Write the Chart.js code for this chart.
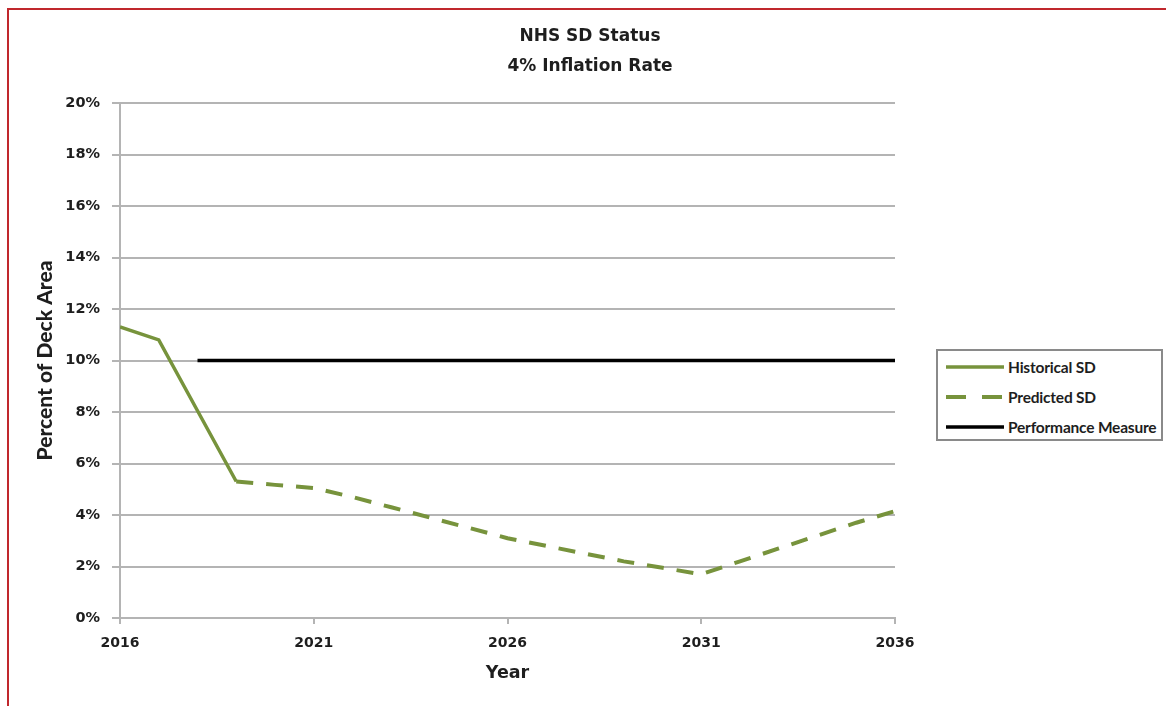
<!DOCTYPE html>
<html>
<head>
<meta charset="utf-8">
<title>NHS SD Status</title>
<script src="https://cdn.jsdelivr.net/npm/chart.js@4.4.1/dist/chart.umd.min.js"></script>
<style>
  html, body { margin: 0; padding: 0; background: #fff; }
  body { width: 1166px; height: 706px; position: relative; overflow: hidden; font-family: Lato, "Open Sans", sans-serif; }
  #frame {
    position: absolute; left: 7px; top: 8px; width: 1170px; height: 720px;
    border-left: 2px solid #c0282d; border-top: 2px solid #c0282d; border-right: 2px solid #c0282d;
    box-sizing: border-box;
  }
  #chart { position: absolute; left: 0; top: 0; }
  #legend {
    position: absolute; left: 936px; top: 349px; width: 227px; height: 92px;
    border: 2px solid #8a8a8a; box-sizing: border-box; background: #fff;
    padding-top: 1px;
  }
  .item { display: flex; align-items: center; height: 30px; padding-left: 8px; }
  .item svg { width: 58px; height: 8px; margin-right: 4px; flex: none; }
  .item span { font: bold 15.5px Lato, sans-serif; color: #1e1e1e; white-space: nowrap; letter-spacing: -0.2px; }
</style>
</head>
<body>
<div id="frame"></div>
<canvas id="chart" width="1166" height="706"></canvas>
<div id="legend"></div>
<script>
// Years on the x axis and the series, one value per year (null = no value)
const years = [2016, 2017, 2018, 2019, 2020, 2021, 2022, 2023, 2024, 2025, 2026,
               2027, 2028, 2029, 2030, 2031, 2032, 2033, 2034, 2035, 2036];
const historicalSD = [11.3, 10.8, 8.05, 5.3, null, null, null, null, null, null, null,
                      null, null, null, null, null, null, null, null, null, null];
const predictedSD = [null, null, null, 5.3, 5.17, 5.05, 4.7, 4.3, 3.9, 3.5, 3.1,
                     2.8, 2.5, 2.2, 1.95, 1.7, 2.2, 2.7, 3.2, 3.7, 4.15];
const performanceMeasure = [null, null, 10, 10, 10, 10, 10, 10, 10, 10, 10,
                            10, 10, 10, 10, 10, 10, 10, 10, 10, 10];
const yearTicks = [2016, 2021, 2026, 2031, 2036];
const titleLines = ['NHS SD Status', '4% Inflation Rate'];

const GREEN = '#77933c';
const GRID = '#b4b4b4';
const TEXT = '#1e1e1e';
const WIDE = '"DejaVu Sans", Verdana, sans-serif';
const NARROW = 'Lato, "Open Sans", sans-serif';

function toPoints(values) {
  return years.map((x, i) => ({ x: x, y: values[i] })).filter(p => p.y !== null);
}

const datasets = [
  { label: 'Historical SD', data: toPoints(historicalSD), borderColor: GREEN, borderWidth: 3.5 },
  { label: 'Predicted SD', data: toPoints(predictedSD), borderColor: GREEN, borderWidth: 4, borderDash: [17, 13] },
  { label: 'Performance Measure', data: toPoints(performanceMeasure), borderColor: '#000', borderWidth: 3.5 }
];
datasets.forEach(d => { d.pointRadius = 0; d.fill = false; d.tension = 0; d.borderCapStyle = 'butt'; });

const chart = new Chart(document.getElementById('chart').getContext('2d'), {
  type: 'line',
  data: { datasets: datasets },
  options: {
    responsive: false,
    animation: false,
    layout: { padding: { left: 14, right: 0, top: 0, bottom: 8 } },
    plugins: {
      legend: { display: false },
      tooltip: { enabled: false },
      title: {
        display: true,
        text: titleLines,
        color: TEXT,
        font: { family: WIDE, size: 17, weight: 'bold', lineHeight: 1.765 },
        padding: { top: 22, bottom: 21 }
      }
    },
    scales: {
      x: {
        type: 'linear',
        min: 2016,
        max: 2036,
        afterBuildTicks: s => { s.ticks = yearTicks.map(v => ({ value: v })); },
        ticks: {
          callback: v => String(v),
          color: TEXT,
          font: { family: WIDE, size: 14, weight: 'bold' },
          padding: 11,
          maxRotation: 0
        },
        grid: { drawOnChartArea: false, color: GRID, lineWidth: 2, tickLength: 6 },
        border: { color: GRID, width: 2 },
        title: {
          display: true,
          text: 'Year',
          color: TEXT,
          font: { family: WIDE, size: 17.5, weight: 'bold' },
          padding: { top: 4, bottom: 14 }
        },
        afterFit: s => { s.height = 80; }
      },
      y: {
        min: 0,
        max: 20,
        ticks: {
          stepSize: 2,
          callback: v => v + '%',
          color: TEXT,
          font: { family: WIDE, size: 14.5, weight: 'bold' },
          padding: 12
        },
        grid: { color: GRID, lineWidth: 2, tickLength: 8 },
        border: { color: GRID, width: 2 },
        title: {
          display: true,
          text: 'Percent of Deck Area',
          color: TEXT,
          font: { family: NARROW, size: 21, weight: '900' },
          padding: { top: 19, bottom: 0 }
        },
        afterFit: s => { s.width = 106; }
      },
      // empty right-hand axis that reserves the space where the legend sits
      spacer: {
        position: 'right',
        display: true,
        ticks: { display: false },
        grid: { display: false },
        border: { display: false },
        afterFit: s => { s.width = 271; }
      }
    }
  }
});

// Legend built from the chart's datasets
const legendEl = document.getElementById('legend');
chart.data.datasets.forEach(d => {
  const row = document.createElement('div');
  row.className = 'item';
  const dash = d.borderDash ? d.borderDash.map(n => n + 3).join(' ') : 'none';
  row.innerHTML =
    '<svg viewBox="0 0 58 8"><line x1="0" y1="4" x2="58" y2="4" stroke="' + d.borderColor +
    '" stroke-width="' + d.borderWidth + '" stroke-dasharray="' + dash + '"/></svg>' +
    '<span>' + d.label + '</span>';
  legendEl.appendChild(row);
});
</script>
</body>
</html>
